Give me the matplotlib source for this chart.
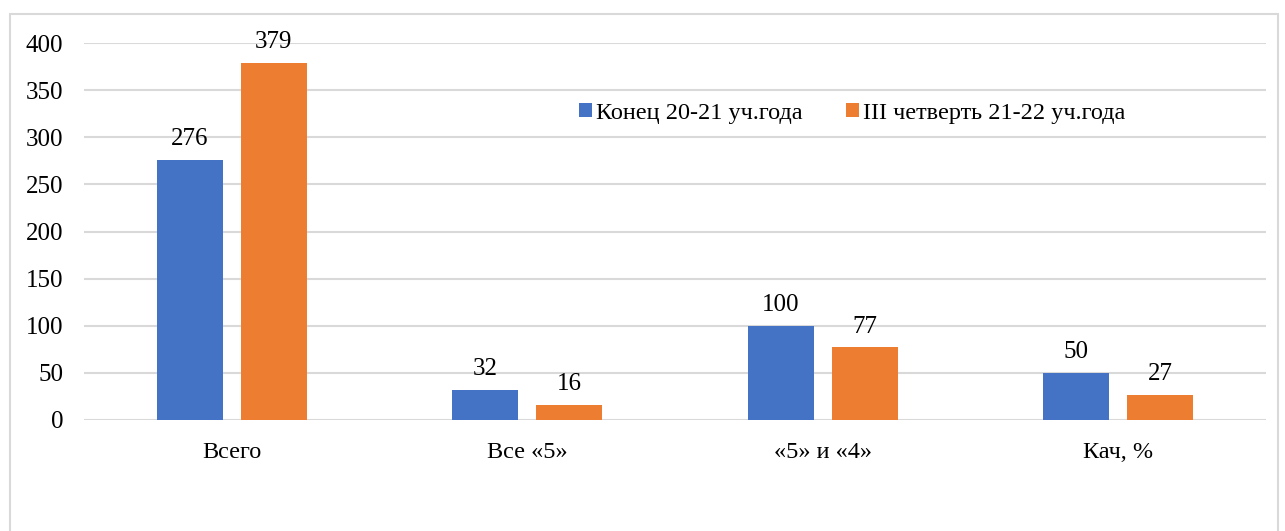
import matplotlib.pyplot as plt
import matplotlib.patches as patches
import numpy as np

# data
categories = ['Всего', 'Все «5»', '«5» и «4»', 'Кач, %']
end_20_21 = [276, 32, 100, 50]
q3_21_22 = [379, 16, 77, 27]
series_names = ['Конец 20-21 уч.года', 'III четверть 21-22 уч.года']
yticks = [0, 50, 100, 150, 200, 250, 300, 350, 400]

plt.rcParams['font.family'] = ['Liberation Serif', 'DejaVu Serif']

fig = plt.figure(figsize=(12.85, 5.31), dpi=100)
ax = fig.add_axes([84 / 1285, 1 - 420 / 531, (1266 - 84) / 1285, (420 - 43) / 531])

# chart border, as in Excel
fig.patches.append(patches.Rectangle((10 / 1285, -0.05), (1278 - 10) / 1285, 1 - 14 / 531 + 0.05,
                                     transform=fig.transFigure, fill=False,
                                     edgecolor='#d9d9d9', linewidth=1.5))

x = np.arange(len(categories))
w = 0.223
off = 0.142
blue = '#4472c4'
orange = '#ed7d31'
b1 = ax.bar(x - off, end_20_21, w, color=blue, label=series_names[0], zorder=2)
b2 = ax.bar(x + off, q3_21_22, w, color=orange, label=series_names[1], zorder=2)

for bars in (b1, b2):
    for b in bars:
        ax.annotate(str(int(b.get_height())), (b.get_x() + b.get_width() / 2, b.get_height()),
                    xytext=(0, 7), textcoords='offset points', ha='center', va='bottom',
                    fontsize=18)

ax.set_xlim(-0.5, len(categories) - 0.5)
ax.set_ylim(0, 400)
ax.set_yticks(yticks)
ax.set_xticks(x)
ax.set_xticklabels(categories, fontsize=17.5)
ax.tick_params(axis='y', length=0, labelsize=18, pad=15)
ax.tick_params(axis='x', length=0, pad=16)
ax.yaxis.grid(True, color='#d9d9d9', linewidth=1.5, zorder=0)
ax.set_axisbelow(True)
for s in ax.spines.values():
    s.set_visible(False)

ax.legend(loc='center', bbox_to_anchor=(852 / 1285, 1 - 113 / 531), bbox_transform=fig.transFigure,
          ncol=2, frameon=False, fontsize=17.5, handlelength=0.55, handleheight=0.55,
          handletextpad=0.15, columnspacing=1.8)

fig.savefig('out.png', dpi=100)
